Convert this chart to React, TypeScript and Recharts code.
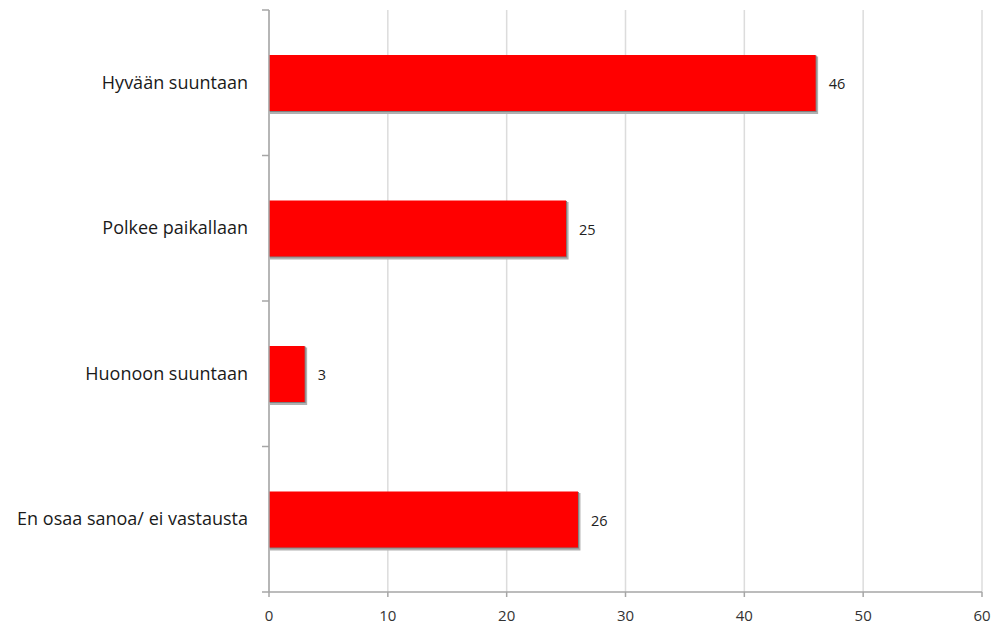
import React from 'react';
import { BarChart, Bar, XAxis, YAxis, CartesianGrid, LabelList } from 'recharts';

const categories = ['Hyvään suuntaan', 'Polkee paikallaan', 'Huonoon suuntaan', 'En osaa sanoa/ ei vastausta'];
const values = [46, 25, 3, 26];
const xTicks = [0, 10, 20, 30, 40, 50, 60];

const data = categories.map((name, i) => ({ name, value: values[i] }));

const FONT = '"Open Sans", "Noto Sans", sans-serif';
const AXIS = '#a6a6a6';

function CategoryTick(props: any) {
  const { x, y, payload, index } = props;
  const half = payload && payload.offset ? payload.offset : 72.75;
  const ax = Number(x) + 21;
  const cy = Number(y);
  return (
    <g>
      <line x1={ax - 7} x2={ax} y1={cy - half} y2={cy - half} stroke={AXIS} strokeWidth={1.5} />
      {index === categories.length - 1 && (
        <line x1={ax - 7} x2={ax} y1={cy + half} y2={cy + half} stroke={AXIS} strokeWidth={1.5} />
      )}
      <text x={x} y={cy} dy={6} textAnchor="end" fontSize={18} fill="#1a1a1a" fontFamily={FONT}>
        {payload.value}
      </text>
    </g>
  );
}

function ValueTick(props: any) {
  const { x, y, payload } = props;
  return (
    <text x={x} y={Number(y)} dy={19} textAnchor="middle" fontSize={15} fill="#333" fontFamily={FONT}>
      {payload.value}
    </text>
  );
}

const renderValue = (props: any) => {
  const x = Number(props.x) + Number(props.width) + 13;
  const y = Number(props.y) + Number(props.height) / 2;
  return (
    <text x={x} y={y} dy={6} textAnchor="start" fontSize={14.5} fill="#222" fontFamily={FONT}>
      {props.value}
    </text>
  );
};

const renderBar = (props: any) => {
  const x = Number(props.x);
  const y = Number(props.y);
  const width = Number(props.width);
  const height = Number(props.height);
  return (
    <g>
      <rect x={x + 1} y={y + 1.5} width={width + 1.5} height={height + 1.5} fill="#b0b0b0" />
      <rect x={x + 0.5} y={y + 0.5} width={width + 0.5} height={height + 0.5} fill="#808080" />
      <rect x={x} y={y} width={width} height={height} fill="#ff0000" />
    </g>
  );
};

export default function App() {
  return (
    <div style={{ position: 'absolute', left: 0, top: 0, width: 994, height: 624, background: '#fff' }}>
      <BarChart
        width={994}
        height={624}
        data={data}
        layout="vertical"
        margin={{ top: 10, right: 12, left: 0, bottom: 0 }}
      >
        <CartesianGrid horizontal={false} stroke="#dcdcdc" strokeWidth={1.5} />
        <XAxis
          type="number"
          domain={[0, 60]}
          ticks={xTicks}
          height={32}
          axisLine={{ stroke: AXIS, strokeWidth: 1.5 }}
          tickLine={{ stroke: AXIS, strokeWidth: 1.5 }}
          tickSize={5}
          tick={<ValueTick />}
          tickMargin={5}
        />
        <YAxis
          type="category"
          dataKey="name"
          width={269}
          axisLine={{ stroke: AXIS, strokeWidth: 1.5 }}
          tickLine={false}
          tickSize={0}
          tickMargin={21}
          tick={<CategoryTick />}
          interval={0}
        />
        <Bar dataKey="value" fill="#ff0000" barSize={56} isAnimationActive={false} shape={renderBar}>
          <LabelList dataKey="value" content={renderValue} />
        </Bar>
      </BarChart>
    </div>
  );
}
